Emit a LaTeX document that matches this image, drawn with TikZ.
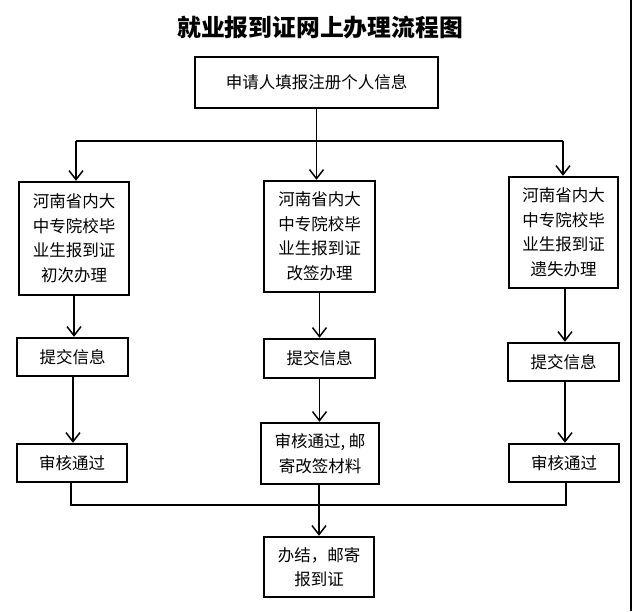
\documentclass[tikz,border=0pt]{standalone}
\usepackage{fontspec}
\usepackage{tikz}
\usetikzlibrary{arrows.meta}
\newfontfamily\cjk{Noto Sans CJK SC}

\begin{document}
\begin{tikzpicture}[x=1pt,y=-1pt,
    main/.style = {draw, line width=2.4pt, align=center, inner sep=0pt,
        font=\cjk\fontsize{16.5}{24.5}\selectfont},
    link/.style = {line width=1.5pt},
    >={Straight Barb[length=9pt,width=14pt]}]
        \useasboundingbox (0,0) rectangle (632,611);
        \node[font=\cjk\bfseries\fontsize{23.8}{24}\selectfont] (title) at (320,28) {就业报到证网上办理流程图};
        \node[main, minimum width=243, minimum height=51] (0) at (316.5,82.5) {申请人填报注册个人信息};
        \node[main, minimum width=110, minimum height=113] (1) at (74,238.5) {河南省内大\\中专院校毕\\业生报到证\\初次办理};
        \node[main, minimum width=111, minimum height=111] (2) at (319.5,236.5) {河南省内大\\中专院校毕\\业生报到证\\改签办理};
        \node[main, minimum width=109, minimum height=111] (3) at (563.5,232.5) {河南省内大\\中专院校毕\\业生报到证\\遗失办理};
        \node[main, minimum width=111, minimum height=38] (4) at (72.5,357) {提交信息};
        \node[main, minimum width=111, minimum height=39] (5) at (319.5,358.5) {提交信息};
        \node[main, minimum width=111, minimum height=38] (6) at (563.5,362) {提交信息};
        \node[main, minimum width=110, minimum height=38] (7) at (72,463) {审核通过};
        \node[main, minimum width=118, minimum height=61] (8) at (320,453.5) {审核通过, 邮\\寄改签材料};
        \node[main, minimum width=110, minimum height=38] (9) at (564,463) {审核通过};
        \node[main, minimum width=110, minimum height=60] (10) at (319,567) {办结，邮寄\\报到证};
        % split after registration
        \coordinate (s1) at (76,141);
        \coordinate (s3) at (563,141);
        \draw[link] (s1) -- (s3);
        \draw[link, ->] (0.south) -- (0.south |- 2.north);
        \draw[link, ->] (s1) -- (s1 |- 1.north);
        \draw[link, ->] (s3) -- (s3 |- 3.north);
        \draw[link, ->] (1.south -| 74,0) -- (74,0 |- 4.north);
        \draw[link, ->] (2.south) -- (5.north);
        \draw[link, ->] (3.south -| 565,0) -- (565,0 |- 6.north);
        \draw[link, ->] (4.south -| 73,0) -- (73,0 |- 7.north);
        \draw[link, ->] (5.south) -- (5.south |- 8.north);
        \draw[link, ->] (6.south -| 565,0) -- (565,0 |- 9.north);
        % join before the end
        \coordinate (j1) at (71,505);
        \coordinate (j2) at (319,505);
        \coordinate (j3) at (566,505);
        \draw[link] (7.south -| j1) -- (j1) -- (j3) -- (9.south -| j3);
        \draw[link] (8.south -| j2) -- (j2);
        \draw[link, ->] (j2) -- (j2 |- 10.north);
        \draw[line width=1.2pt] (631,0) -- (631,611);
\end{tikzpicture}
\end{document}
